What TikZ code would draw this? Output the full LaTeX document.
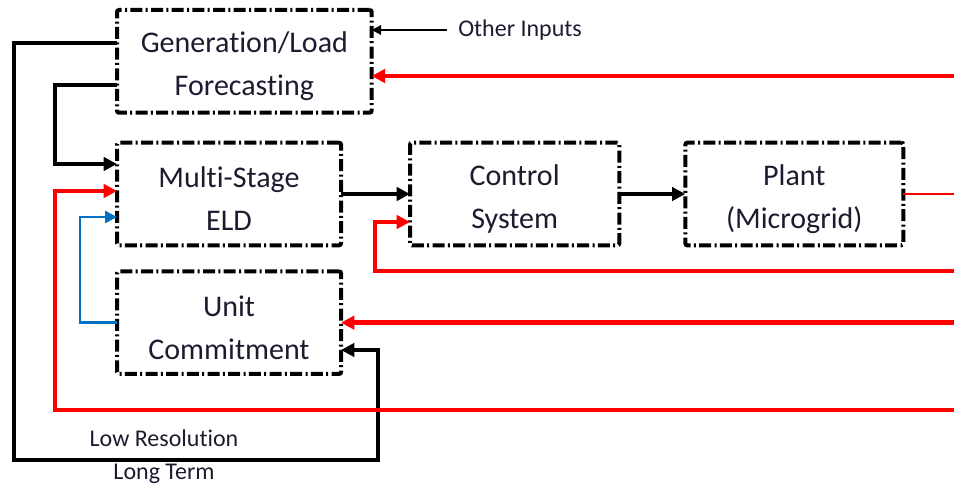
\documentclass[tikz,border=0pt]{standalone}
\usepackage{fontspec}
\setmainfont{Carlito}[Ligatures=NoCommon]
\usepackage{tikz}
\usetikzlibrary{arrows.meta,shapes,positioning}
\definecolor{fbred}{RGB}{255,0,0}
\definecolor{ucblue}{RGB}{0,112,192}
\definecolor{txt}{RGB}{28,28,48}
\tikzstyle{edge} = [draw,line width=3pt,-{Triangle[length=10pt,width=10pt]}]
\tikzstyle{fb} = [edge,fbred,line width=3.5pt]
\newcommand{\topgap}{\rule{0pt}{23pt}}

\begin{document}
\begin{tikzpicture}[x=0.75pt,y=0.75pt,
  block/.style={draw,line width=3pt,dash pattern=on 9pt off 2.5pt on 1.5pt off 2.5pt,
    rounded corners=1.5pt,minimum width=168pt,minimum height=77pt,align=center,
    outer sep=0pt,text=txt,font=\fontsize{22.5}{32}\selectfont},
  note/.style={text=txt,inner sep=0pt,font=\fontsize{18}{22}\selectfont}]
  \useasboundingbox (0,0) rectangle (954,489);

  \node[block] (eld) at (229,295) {\topgap Multi-Stage\\ELD};
  \node[block,minimum width=157pt] (ctrl) [right=51.75pt of eld] {\topgap Control\\System};
  \node[block,minimum width=163.5pt] (plant) [right=49.5pt of ctrl] {\topgap Plant\\(Microgrid)};
  \node[block] (uc) [below=19.5pt of eld] {\topgap Unit\\Commitment};
  \node[block,minimum width=191pt] (gen) [above=22.5pt of eld.north west,anchor=south west] {\topgap Generation/Load\\Forecasting};

  \node[note,anchor=west] (oth) at (458,459) {Other Inputs};
  \node[note] (lowres) at (164,51) {Low Resolution};
  \node[note] (longterm) at (164,15) {Long Term};

  \coordinate (fbgen) at (954,413);
  \coordinate (fbctrl) at (954,218);
  \coordinate (fbuc) at (uc.east -| 954,0);
  \coordinate (fbeld) at (954,79);
  \coordinate (out) at (954,295);

  % black paths
  \draw[line width=1.5pt,-{Triangle[length=7pt,width=7pt]}] ([xshift=-8pt]oth.west) -- (gen.east |- oth.west);
  \path[edge] ([yshift=14pt]gen.west) -| (14,29) -| (378,139) -- (uc.east |- 0,139);
  \path[edge] ([yshift=-18pt]gen.west) -| (55,325) -- (eld.west |- 0,325);
  \path[edge] (eld.east) -- (ctrl.west);
  \path[edge] (ctrl.east) -- (plant.west);

  % blue
  \path[edge,ucblue,line width=2pt,-{Triangle[length=9pt,width=9pt]}] (uc.west) -| (80,272) -- (eld.west |- 0,272);

  % red feedback
  \draw[fbred,line width=1.5pt] (plant.east) -- (out);
  \path[fb] (fbgen) -- (gen.east |- fbgen);
  \path[fb] (fbctrl) -| (375,267) -- (ctrl.west |- 0,267);
  \path[fb] (fbuc) -- (uc.east);
  \path[fb] (fbeld) -| (55,298) -- (eld.west |- 0,298);
\end{tikzpicture}
\end{document}
